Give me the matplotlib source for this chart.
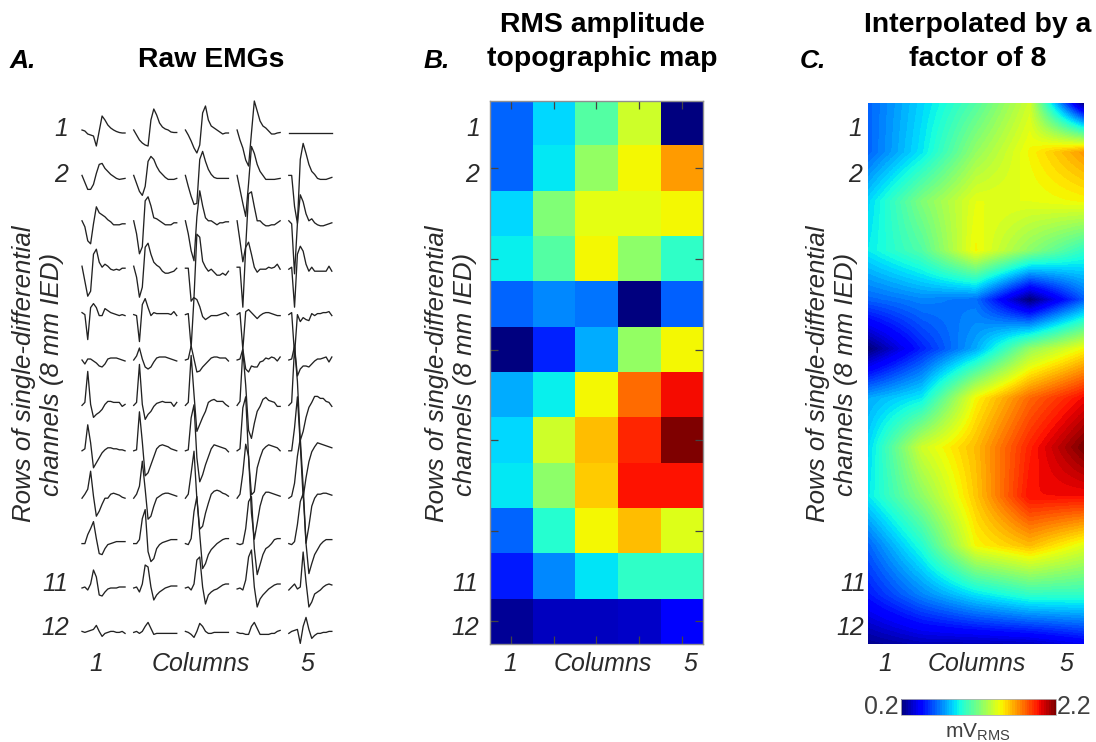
import numpy as np
import matplotlib
matplotlib.use("Agg")
import matplotlib.pyplot as plt

plt.rcParams['font.family'] = ['Liberation Sans', 'DejaVu Sans']
plt.rcParams['mathtext.default'] = 'regular'

W, H = 1096, 742
TXT = '#2a2a2a'

# raw EMG samples per channel, 16 samples per trace, amplitude in arbitrary units
emg_row1 = [[3,2,-1,-2,-3,-13,2,17,13,8,5,3,1.5,0.5,0,0],
            [3,-2,-7,-10,-12,-13,13,24,18,10,6,4,3,1,0.5,0.5],
            [3,-2,-8,-15,-20,-12,20,27,13,7,5,3,1,-1,0,0],
            [3,-7,-15,-27,-33,0,32,22,12,7,5,2,-1,-1,0,0.5],
            [0,0,0,0,0,0,0,0,0,0,0,0,0,0,0,0]]
emg_row2 = [[3,-4,-11,-11,-6,5,14,15,10,7,4,2,0,-1,-0.5,0],
            [3,-5,-13,-17,-8,17,22,19,12,7,4,1,-1,-1,-1,0],
            [3,-8,-18,-26,-25,19,27,17,9,4,1,0,0,0,0,0],
            [3,-11,-25,-38,-5,32,25,14,7,3,-1,-1,-1,-1,-0.5,0],
            [3,3,-28,-45,19,35,25,14,7,4,0,-1,-1,-1,0,1]]
emg_row3 = [[3,-3,-17,-20,0,17,11,9,7,4,2,-1,-1,-1,0,0],
            [3,-10,-30,-23,23,27,18,6,5,3,1,-1,-1,-1,1,1],
            [3,-10,-27,-37,7,33,18,6,3,3,1,-1,1,1,2,2],
            [3,-17,-38,-23,30,32,17,3,3,0,-2,-2,-1,-1,1,3],
            [3,0,-50,0,29,22,10,3,5,1,-1,-2,-2,-1,0,1]]
emg_row4 = [[3,-12,-27,-22,15,20,7,2,5,3,0,-1,0,-1,1,1],
            [3,-8,-28,-18,22,26,15,7,4,2,-2,-4,-4,-3,-2,1],
            [1,1,-32,-28,35,32,8,2,-2,0,-3,-6,-6,-4,-6,-2],
            [2,2,-38,22,27,15,2,-3,0,0,0,2,1,2,5,0],
            [0,2,-38,15,23,18,5,-2,2,-2,-2,-2,-2,-2,3,-2]]
emg_row5 = [[2,0,-25,7,11,7,-1,-1,6,4,2,1,0,-1,0,-1],
            [0,-1,-27,10,16,7,-1,2,1,1,1,1,1,0,3,-1],
            [0,1,-33,17,15,8,-2,-5,-3,-1,-1,-1,0,1,2,-1],
            [0,2,-35,3,5,2,-1,-4,-1,1,2,2,1,0,-1,-1],
            [0,2,-40,0,-7,-3,-5,-6,1,-1,1,1,2,2,3,-1]]
emg_row6 = [[0,-4,1,1,-1,-3,-6,-7,-4,1,2,2,2,1,0,-1],
            [0,4,12,1,-7,-9,-7,-2,2,3,3,3,2,1,0,-1],
            [0,1,14,1,-12,-11,-7,-4,-1,2,3,3,2,2,2,-1],
            [0,1,11,-9,-12,-6,-7,-7,-2,-1,2,1,3,2,-1,3],
            [0,1,14,-16,-9,-6,-6,-7,-4,-1,1,1,2,3,-2,3]]
emg_row7 = [[0,3,34,1,-12,-9,-7,-4,1,4,4,3,3,3,-1,1],
            [0,3,41,1,-14,-9,-6,-1,2,3,4,3,3,3,-1,3],
            [0,3,50,11,-26,-19,-12,-6,3,5,6,4,4,4,1,-1],
            [0,4,55,20,-25,-33,-18,-6,-1,6,8,5,4,3,-1,-1],
            [0,3,58,24,-35,-26,-12,-2,3,9,9,7,7,4,3,-1]]
emg_row8 = [[0,2,26,8,-17,-12,-7,-2,1,3,3,2,2,1,1,0],
            [0,1,39,9,-25,-22,-14,-6,2,5,6,5,4,2,1,0],
            [0,1,33,46,-7,-31,-24,-14,-6,2,6,5,4,3,2,-1],
            [0,2,43,54,-7,-44,-41,-17,-7,1,4,6,5,4,3,0],
            [0,0,23,54,6,-47,-27,-11,-1,4,8,7,6,5,4,3]]
emg_row9 = [[-2,2,7,25,0,-20,-15,-8,-2,-2,2,3,2,1,-1,-2],
            [-2,2,10,35,7,-23,-20,-10,-2,0,2,3,3,2,1,0],
            [-2,2,23,45,-3,-33,-30,-17,-7,2,5,6,5,3,2,0],
            [-2,2,23,52,40,-17,-43,-27,-10,0,4,4,3,2,1,0],
            [-2,0,13,40,58,10,-47,-30,-10,-2,2,2,3,3,2,1]]
emg_row10 = [[-2,-2,7,13,20,3,-12,-13,-7,-3,-2,-1,0,0,0,0],
             [-2,-2,2,23,32,-10,-20,-17,-7,-3,-1,0,1,2,2,2],
             [-2,-3,3,30,45,7,-27,-22,-13,-8,-5,-2,0,2,3,3],
             [-2,-3,-2,13,40,45,-7,-33,-23,-13,-7,-5,-2,2,3,3],
             [-2,-3,0,17,40,48,-2,-32,-22,-13,-8,-3,0,2,2,2]]
emg_row11 = [[-1,0,-3,3,17,10,-8,-9,-5,-2,-1,-1,-1,0,0,0],
             [-1,0,-5,3,22,20,0,-13,-8,-5,-3,-1,0,1,1,1],
             [-1,0,-3,3,27,30,0,-17,-8,-5,-3,-2,0,2,3,3],
             [-2,-1,-3,7,30,37,0,-20,-12,-8,-5,-2,0,2,3,3],
             [-3,0,3,-2,0,35,5,-20,-15,-7,-5,-3,0,2,3,2]]
emg_row12 = [[1,0,1,2,3,7,1,-4,-1,0,1,1,0,0,1,-1],
             [0,1,-1,1,6,10,4,-2,-1,-1,-1,-1,-1,-1,-1,-1],
             [1,0,-2,-5,1,9,6,1,-1,-1,0,0,0,0,0,0],
             [0,-1,-1,-2,-2,6,10,4,-2,-2,-2,-2,-1,-1,1,2],
             [-1,1,2,3,-11,6,15,3,-6,-3,-1,-1,0,0,1,1]]
emg_rows = [emg_row1, emg_row2, emg_row3, emg_row4, emg_row5, emg_row6,
            emg_row7, emg_row8, emg_row9, emg_row10, emg_row11, emg_row12]

# RMS amplitude per channel (mV), rows top to bottom
rms_row1 = [0.65, 0.875, 1.10, 1.40, 0.20]
rms_row2 = [0.65, 0.91, 1.26, 1.49, 1.69]
rms_row3 = [0.875, 1.21, 1.45, 1.45, 1.49]
rms_row4 = [0.92, 1.10, 1.49, 1.24, 1.02]
rms_row5 = [0.65, 0.72, 0.68, 0.20, 0.64]
rms_row6 = [0.20, 0.52, 0.79, 1.26, 1.49]
rms_row7 = [0.79, 0.92, 1.49, 1.79, 1.99]
rms_row8 = [0.875, 1.40, 1.615, 1.94, 2.20]
rms_row9 = [0.91, 1.24, 1.59, 1.98, 1.98]
rms_row10 = [0.65, 0.99, 1.49, 1.615, 1.44]
rms_row11 = [0.50, 0.72, 0.90, 1.02, 1.02]
rms_row12 = [0.24, 0.31, 0.31, 0.33, 0.42]
rms = np.array([rms_row1, rms_row2, rms_row3, rms_row4, rms_row5, rms_row6,
                rms_row7, rms_row8, rms_row9, rms_row10, rms_row11, rms_row12])

vmin, vmax = 0.2, 2.2
cmap = plt.get_cmap('jet', 64)


def box(x0, y0, x1, y1):
    # pixel box (y from the top) to figure fractions
    return [x0 / W, 1 - y1 / H, (x1 - x0) / W, (y1 - y0) / H]


def label(x, y, s, **kw):
    kw.setdefault('fontsize', 17.9)
    kw.setdefault('color', TXT)
    kw.setdefault('ha', 'center')
    kw.setdefault('va', 'center')
    fig.text(x / W, 1 - y / H, s, **kw)


def panel_text(letter, lx, title, tx, ylab_x, rows_x, cols_x, col_y=664):
    label(lx, 61, letter, style='italic', fontweight='bold', fontsize=19, color='black')
    for i, line in enumerate(title):
        y = 60 if len(title) == 1 else 25 + 34 * i
        label(tx, y, line, fontweight='bold', fontsize=20.4, color='black')
    label(ylab_x, 374, 'Rows of single-differential\nchannels (8 mm IED)', rotation=90,
          style='italic', fontsize=18.6, linespacing=1.25, multialignment='center')
    for s, x, y in zip(['1', '2', '11', '12'], rows_x, [129, 175, 584, 628]):
        label(x, y, s, style='italic')
    for s, x in zip(['1', 'Columns', '5'], cols_x):
        label(x, col_y, s, style='italic')


fig = plt.figure(figsize=(W / 100, H / 100), dpi=100)

# A: raw traces
ax_a = fig.add_axes([0, 0, 1, 1])
ax_a.set_xlim(0, W)
ax_a.set_ylim(H, 0)
ax_a.axis('off')
t = np.arange(16) * 2.87
for r, row in enumerate(emg_rows):
    for c, trace in enumerate(row):
        ax_a.plot(82 + 51.7 * c + t, 133 + 45.4 * r - np.array(trace),
                  color='#222222', lw=0.95, solid_joinstyle='round')
panel_text('A.', 23, ['Raw EMGs'], 211, 38, [61, 61, 55, 55], [96, 201, 307])

# B: RMS map
ax_b = fig.add_axes(box(489.5, 100.5, 703, 644))
ax_b.imshow(rms, cmap='jet', vmin=vmin, vmax=vmax, aspect='auto', interpolation='nearest')
ax_b.set_xticks(range(5))
ax_b.set_yticks(range(1, 12, 2))
ax_b.tick_params(direction='in', top=True, right=True, length=6, width=0.9, color='#444444',
                 labelleft=False, labelbottom=False)
for s in ax_b.spines.values():
    s.set_color('#909090')
    s.set_linewidth(1.0)
panel_text('B.', 437, ['RMS amplitude', 'topographic map'], 602, 451,
           [473, 472, 465, 465], [510, 603, 690])

# C: interpolated map, grid nodes reach the edges of the axes
ax_c = fig.add_axes(box(868, 103, 1084, 644))
im = ax_c.imshow(rms, cmap=cmap, vmin=vmin, vmax=vmax, aspect='auto',
                 interpolation='bilinear', interpolation_stage='data')
ax_c.set_xlim(0, 4)
ax_c.set_ylim(11, 0)
ax_c.axis('off')
panel_text('C.', 813, ['Interpolated by a', 'factor of 8'], 978, 832,
           [855, 855, 853, 850], [885, 977, 1066])

# colour bar
cax = fig.add_axes(box(901, 699, 1056, 715))
cb = fig.colorbar(im, cax=cax, orientation='horizontal')
cb.set_ticks([])
cb.outline.set_edgecolor('#b0b0b0')
cb.outline.set_linewidth(0.6)
label(881, 707, '0.2', color='#404040')
label(1074, 707, '2.2', color='#404040')
label(978, 732, r'mV$_{RMS}$', color='#404040', fontsize=15)

fig.savefig('out.png', dpi=100)
